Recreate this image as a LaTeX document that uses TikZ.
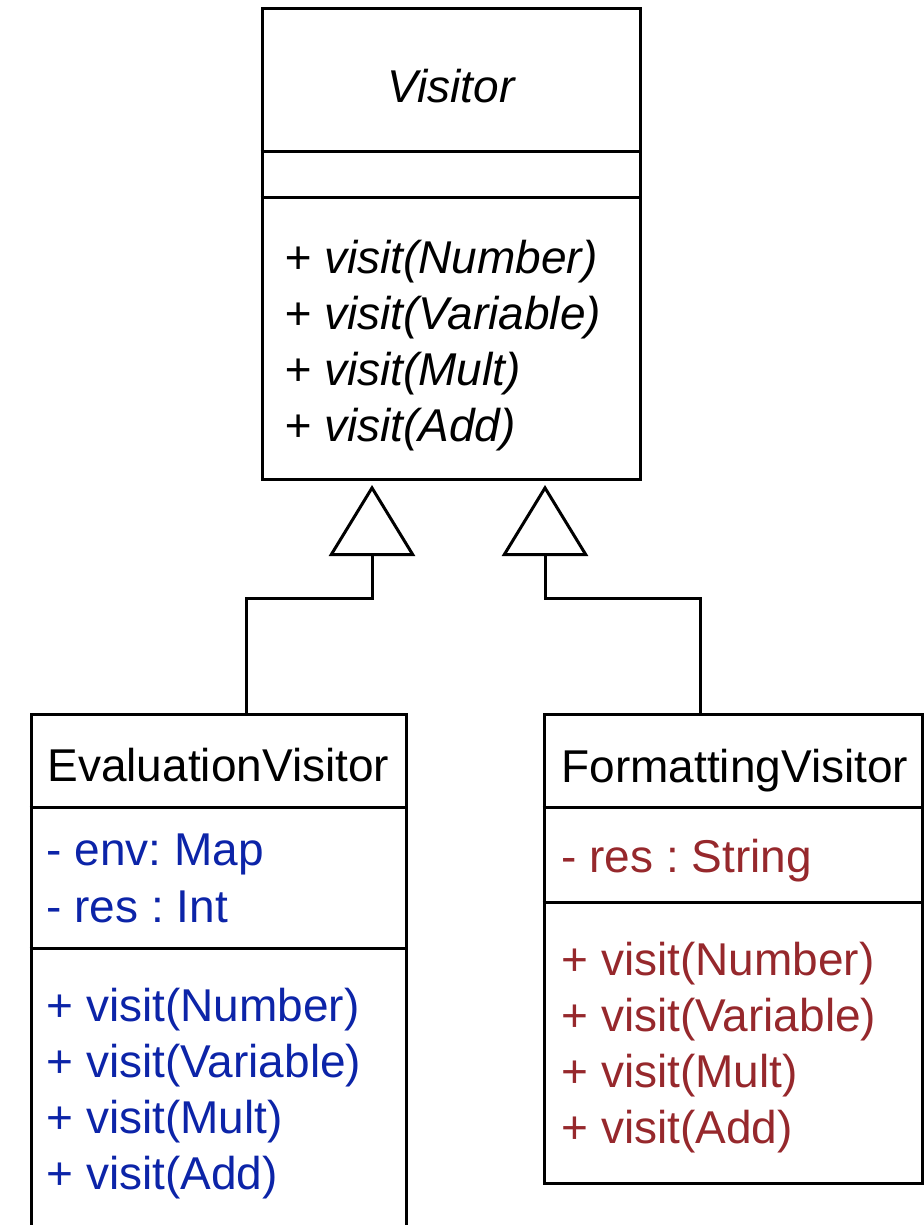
\documentclass[tikz,border=0pt]{standalone}
\usepackage{fontspec}
\setmainfont{Liberation Sans}
\usetikzlibrary{arrows.meta}
\definecolor{evalblue}{RGB}{12,36,168}
\definecolor{fmtred}{RGB}{150,40,44}
\newcommand\umlfont{\fontsize{23}{28}\selectfont\frenchspacing}
\tikzset{classbox/.style={draw,rectangle,line width=1.5pt,inner sep=0pt},
  member/.style={anchor=base west,inner sep=0pt,font=\umlfont},
  divider/.style={line width=1.5pt},
  inherit/.style={line width=1.5pt,-{Triangle[open,length=35.5pt,width=43pt]}}}

\begin{document}
\begin{tikzpicture}[x=0.5pt,y=-0.5pt]
  \useasboundingbox (0,0) rectangle (924,1225);

  % abstract visitor
  \node[classbox,minimum width=189pt,minimum height=235pt] (visitor) at (451,244) {};
  \draw[divider] (visitor.west |- 0,152) -- (visitor.east |- 0,152);
  \draw[divider] (visitor.west |- 0,198) -- (visitor.east |- 0,198);
  \node[member,anchor=base,font=\umlfont\itshape] (vis-name) at (451,103) {Visitor};
  \foreach \i/\t in {1/Number,2/Variable,3/Mult,4/Add}
    \node[member,font=\umlfont\itshape] (vis-m\i) at (284,217+56*\i) {+ visit(\t)};

  % evaluation visitor
  \node[classbox,minimum width=187.5pt,minimum height=263pt] (eval) at (218.5,977) {};
  \draw[divider] (eval.west |- 0,807) -- (eval.east |- 0,807);
  \draw[divider] (eval.west |- 0,948) -- (eval.east |- 0,948);
  \node[member] (ev-name) at (47,781) {EvaluationVisitor};
  \node[member,text=evalblue] (ev-a1) at (46,865) {- env: Map};
  \node[member,text=evalblue] (ev-a2) at (46,922) {- res : Int};
  \foreach \i/\t in {1/Number,2/Variable,3/Mult,4/Add}
    \node[member,text=evalblue] (ev-m\i) at (46,965+56*\i) {+ visit(\t)};

  % formatting visitor
  \node[classbox,minimum width=189pt,minimum height=234.5pt] (fmt) at (733,948.5) {};
  \draw[divider] (fmt.west |- 0,807) -- (fmt.east |- 0,807);
  \draw[divider] (fmt.west |- 0,902) -- (fmt.east |- 0,902);
  \node[member] (fmt-name) at (561,782) {FormattingVisitor};
  \node[member,text=fmtred] (fmt-a1) at (561,872) {- res : String};
  \foreach \i/\t in {1/Number,2/Variable,3/Mult,4/Add}
    \node[member,text=fmtred] (fmt-m\i) at (561,919+56*\i) {+ visit(\t)};

  % inheritance
  \coordinate (ev-up) at (246,714);
  \coordinate (fmt-up) at (700,714);
  \coordinate (vis-a1) at (372,485);
  \coordinate (vis-a2) at (545,485);
  \draw[inherit] (ev-up) -- ++(0,-116) -| (vis-a1);
  \draw[inherit] (fmt-up) -- ++(0,-116) -| (vis-a2);
\end{tikzpicture}
\end{document}
